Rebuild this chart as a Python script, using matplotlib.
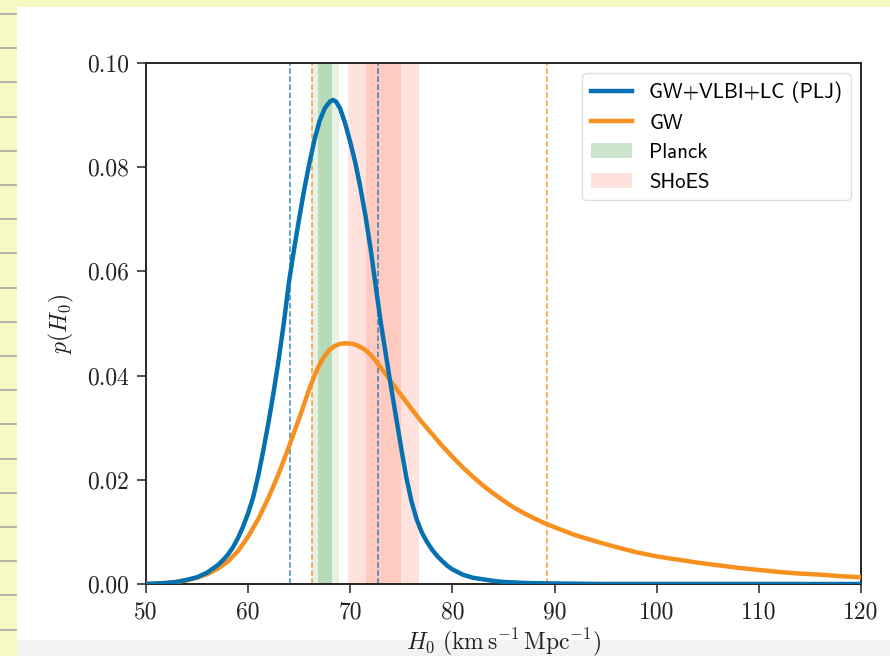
import matplotlib
matplotlib.use("Agg")
import matplotlib.pyplot as plt
from matplotlib.lines import Line2D
from matplotlib.patches import Rectangle

plt.rcParams['mathtext.fontset'] = 'cm'

# Posterior on H0 from GW + VLBI + light curve (PLJ model)
h0_joint = [50, 51, 52, 53, 54, 55, 56, 57, 57.5, 58, 58.5, 59, 59.5, 60,
            60.5, 61, 61.5, 62, 62.5, 63, 63.5, 64, 64.5, 65, 65.5, 66, 66.5,
            67, 67.5, 68, 68.3, 68.6, 69, 69.5, 70, 70.5, 71, 71.5, 72, 72.5,
            73, 73.5, 74, 74.5, 75, 75.5, 76, 76.5, 77, 77.5, 78, 78.5, 79,
            79.5, 80, 81, 82, 83, 84, 85, 87, 90, 95, 100, 120]
p_joint = [0.0000, 0.0001, 0.0002, 0.0004, 0.0008, 0.0013, 0.0022, 0.0036,
           0.0045, 0.0056, 0.0070, 0.0088, 0.0110, 0.0136, 0.0167, 0.0209,
           0.0258, 0.0311, 0.0369, 0.0432, 0.0502, 0.0580, 0.0643, 0.0702,
           0.0758, 0.0808, 0.0853, 0.0889, 0.0913, 0.0926, 0.0929, 0.0926,
           0.0913, 0.0884, 0.0848, 0.0808, 0.0760, 0.0705, 0.0642, 0.0570,
           0.0500, 0.0438, 0.0377, 0.0318, 0.0259, 0.0203, 0.0158, 0.0124,
           0.0099, 0.0081, 0.0066, 0.0054, 0.0044, 0.0035, 0.0028, 0.0018,
           0.0012, 0.0009, 0.0006, 0.0004, 0.0002, 0.0001, 0.0000, 0.0000,
           0.0000]

# Posterior on H0 from GW alone
h0_gw = [50, 51, 52, 53, 54, 55, 56, 57, 58, 59, 60, 61, 62, 63, 64, 65, 66,
         66.5, 67, 67.5, 68, 68.5, 69, 69.6, 70.2, 70.8, 71.4, 72, 72.5, 73,
         73.5, 74, 74.5, 75, 76, 77, 78, 79, 80, 81, 82, 83, 84, 85, 86, 87,
         88, 89, 90, 92, 94, 96, 98, 100, 102, 104, 106, 108, 110, 112, 114,
         116, 118, 120]
p_gw = [0.0000, 0.0001, 0.0002, 0.0004, 0.0007, 0.0012, 0.0019, 0.0029,
        0.0043, 0.0063, 0.0091, 0.0125, 0.0166, 0.0212, 0.0264, 0.0318,
        0.0375, 0.0400, 0.0422, 0.0438, 0.0450, 0.0457, 0.0461, 0.0462,
        0.0461, 0.0457, 0.0450, 0.0440, 0.0428, 0.0415, 0.0402, 0.0388,
        0.0375, 0.0362, 0.0336, 0.0311, 0.0288, 0.0265, 0.0244, 0.0224,
        0.0206, 0.0189, 0.0174, 0.0160, 0.0147, 0.0136, 0.0126, 0.0117,
        0.0109, 0.0094, 0.0082, 0.0071, 0.0061, 0.0053, 0.0047, 0.0041,
        0.0036, 0.0031, 0.0027, 0.0023, 0.0020, 0.0018, 0.0015, 0.0013]

# 68% credible bounds
joint_bounds = [64.1, 72.75]
gw_bounds = [66.25, 89.25]

# External measurements (mean, 1 sigma)
planck_h0, planck_sigma = 67.55, 0.67
shoes_h0, shoes_sigma = 73.24, 1.74

x_ticks = [50, 60, 70, 80, 90, 100, 110, 120]
y_ticks = [0.00, 0.02, 0.04, 0.06, 0.08, 0.10]

blue = '#0571b0'
orange = '#f7901e'

W, H = 890, 656
fig = plt.figure(figsize=(W / 100, H / 100), dpi=100)
fig.patch.set_facecolor('white')

# page backdrop
fig.add_artist(Rectangle((0, 0), 1, 1, transform=fig.transFigure,
                         facecolor='#f6f9c2', edgecolor='none', zorder=-10))
fig.add_artist(Rectangle((17 / W, 0), 1 - 17 / W, 1 - 7 / H,
                         transform=fig.transFigure, facecolor='white',
                         edgecolor='none', zorder=-9))
fig.add_artist(Rectangle((17 / W, 0), 1 - 17 / W, 16 / H,
                         transform=fig.transFigure, facecolor='#f3f3f3',
                         edgecolor='none', zorder=-8))
for k in range(19):
    yy = 1 - (14 + 34.2 * k) / H
    fig.add_artist(Line2D([0, 16 / W], [yy, yy], transform=fig.transFigure,
                          color='#a9a9a0', lw=1.2, zorder=-7))

ax = fig.add_axes([146 / W, 1 - 584 / H, (861 - 146) / W, (584 - 63) / H])
ax.set_facecolor('white')

ax.axvspan(planck_h0 - 2 * planck_sigma, planck_h0 + 2 * planck_sigma,
           color='green', alpha=0.1, lw=0, zorder=1)
ax.axvspan(planck_h0 - planck_sigma, planck_h0 + planck_sigma,
           color='green', alpha=0.2, lw=0, zorder=1, label='Planck')
ax.axvspan(shoes_h0 - 2 * shoes_sigma, shoes_h0 + 2 * shoes_sigma,
           color='tomato', alpha=0.18, lw=0, zorder=1)
ax.axvspan(shoes_h0 - shoes_sigma, shoes_h0 + shoes_sigma,
           color='tomato', alpha=0.18, lw=0, zorder=1, label='SHoES')

for b in joint_bounds:
    ax.axvline(b, color=blue, ls='--', lw=1.1, alpha=0.8, zorder=2)
for b in gw_bounds:
    ax.axvline(b, color=orange, ls='--', lw=1.1, alpha=0.9, zorder=2)

ax.plot(h0_joint, p_joint, color=blue, lw=3.2, zorder=4,
        solid_joinstyle='round', label='GW+VLBI+LC (PLJ)')
ax.plot(h0_gw, p_gw, color=orange, lw=3.2, zorder=3,
        solid_joinstyle='round', label='GW')

ax.set_xlim(50, 120)
ax.set_ylim(0, 0.10)
ax.set_xticks(x_ticks)
ax.set_xticklabels([str(t) for t in x_ticks])
ax.set_yticks(y_ticks)
ax.set_yticklabels([f'{t:.2f}' for t in y_ticks])
ax.tick_params(axis='both', direction='out', length=6.5, width=1.1,
               pad=6, labelsize=17, labelfontfamily='cmr10',
               colors='#222222', labelcolor='#222222')
for s in ax.spines.values():
    s.set_linewidth(1.4)
    s.set_color('#262626')

ax.set_xlabel(r'$H_0\ (\mathrm{km\,s^{-1}\,Mpc^{-1}})$', fontsize=17,
              color='#222222', labelpad=2)
ax.set_ylabel(r'$p(H_0)$', fontsize=17, color='#222222', labelpad=8)

handles, labels = ax.get_legend_handles_labels()
order = [labels.index(n) for n in
         ['GW+VLBI+LC (PLJ)', 'GW', 'Planck', 'SHoES']]
ax.legend([handles[i] for i in order], [labels[i] for i in order],
          loc='upper right', prop={'family': 'cmss10', 'size': 15},
          frameon=True, fancybox=True, framealpha=0.8, edgecolor='#d8d8d8')

fig.savefig('out.png', dpi=100, facecolor=fig.get_facecolor())
